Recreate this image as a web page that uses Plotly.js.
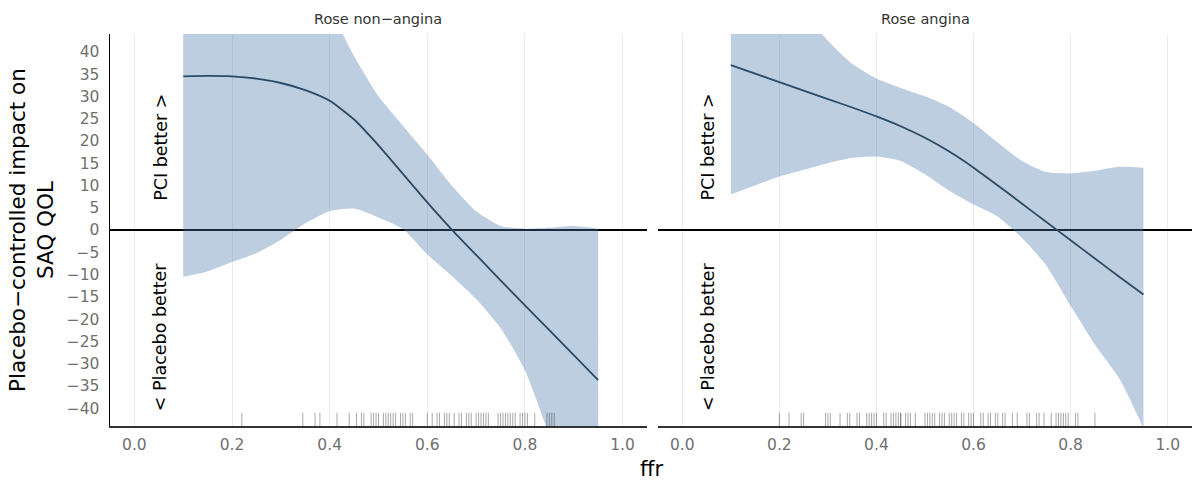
<!DOCTYPE html>
<html>
<head>
<meta charset="utf-8">
<script src="https://cdn.plot.ly/plotly-3.0.1.min.js"></script>
<style>
  html, body { margin: 0; padding: 0; background: #ffffff; }
  #chart { width: 1192px; height: 484px; }
</style>
</head>
<body>
<div id="chart"></div>
<script>
// ---------------- data ----------------
var panelNames = ["Rose non\u2212angina", "Rose angina"];

var ffrGrid = [0.10, 0.15, 0.20, 0.25, 0.30, 0.35, 0.40, 0.45, 0.50,
               0.55, 0.60, 0.65, 0.70, 0.75, 0.80, 0.85, 0.90, 0.95];

// Rose non-angina panel
var nonAnginaMean  = [34.5, 34.6, 34.5, 34.0, 33.0, 31.4, 29.0, 24.8, 19.0,
                      12.6, 6.2, 0.1, -5.6, -11.3, -16.9, -22.5, -28.1, -33.7];
var nonAnginaLower = [-10.5, -9.3, -7.2, -5.2, -2.2, 1.5, 4.2, 4.8, 2.8,
                      0.2, -5.5, -10.3, -15.5, -22.0, -31.5, -46.0, -60.0, -75.0];
var nonAnginaUpper = [58.0, 57.0, 56.0, 55.0, 54.0, 52.0, 49.0, 39.0, 30.0,
                      23.4, 16.9, 10.0, 4.2, 0.9, 0.3, 0.5, 0.9, 0.3];

// Rose angina panel
var anginaMean  = [37.0, 35.1, 33.2, 31.3, 29.4, 27.5, 25.5, 23.3, 20.7,
                   17.6, 14.0, 10.0, 5.9, 1.8, -2.3, -6.4, -10.5, -14.5];
var anginaLower = [8.0, 10.0, 12.0, 13.5, 15.0, 16.2, 16.5, 15.5, 12.5,
                   8.8, 5.7, 3.0, -1.8, -8.0, -17.0, -25.7, -33.3, -44.5];
var anginaUpper = [54.0, 53.0, 51.5, 48.5, 42.5, 37.3, 34.0, 31.9, 30.0,
                   27.6, 24.0, 19.6, 15.5, 13.0, 12.7, 13.3, 14.2, 14.0];

// observed ffr values (rug marks)
var rugNonAngina = [0.22, 0.345, 0.37, 0.38, 0.415, 0.44, 0.455, 0.465, 0.47, 0.485,
                    0.49, 0.495, 0.50, 0.51, 0.515, 0.52, 0.525, 0.53, 0.535, 0.545,
                    0.55, 0.555, 0.565, 0.57, 0.60, 0.61, 0.62, 0.625, 0.635, 0.64,
                    0.645, 0.655, 0.665, 0.67, 0.68, 0.685, 0.69, 0.70, 0.705, 0.71,
                    0.715, 0.72, 0.725, 0.745, 0.75, 0.755, 0.76, 0.765, 0.77, 0.775,
                    0.78, 0.79, 0.795, 0.80, 0.805, 0.82, 0.845, 0.85, 0.855, 0.86];
var rugAngina = [0.20, 0.22, 0.245, 0.25, 0.295, 0.30, 0.305, 0.325, 0.34, 0.345,
                 0.36, 0.365, 0.38, 0.385, 0.39, 0.395, 0.40, 0.415, 0.42, 0.43,
                 0.435, 0.44, 0.445, 0.45, 0.45, 0.46, 0.465, 0.47, 0.48, 0.50,
                 0.505, 0.51, 0.515, 0.52, 0.53, 0.535, 0.54, 0.55, 0.555, 0.56,
                 0.565, 0.575, 0.58, 0.59, 0.595, 0.60, 0.615, 0.62, 0.63, 0.635,
                 0.645, 0.65, 0.66, 0.665, 0.68, 0.69, 0.71, 0.715, 0.73, 0.735,
                 0.745, 0.76, 0.77, 0.775, 0.78, 0.785, 0.79, 0.795, 0.81, 0.815, 0.85];

var xTickVals = [0.0, 0.2, 0.4, 0.6, 0.8, 1.0];
var yTickVals = [-40, -35, -30, -25, -20, -15, -10, -5, 0, 5, 10, 15, 20, 25, 30, 35, 40];

// ---------------- styling ----------------
var FONT = "DejaVu Sans, Liberation Sans, Arial, sans-serif";
var fillCol = "rgba(70,120,170,0.36)";
var lineCol = "#2b4a68";
var rugCol = "rgba(0,0,0,0.34)";
var yRange = [-44, 44];
var rugLenPx = 11;
var plotHpx = 392;
var rugY = yRange[0] + (rugLenPx / 2) * (yRange[1] - yRange[0]) / plotHpx;
var SMOOTH = 0.6;

function panelTraces(xa, ya, lower, upper, mean, rug) {
  return [
    { type: "scatter", mode: "lines", x: ffrGrid, y: lower, xaxis: xa, yaxis: ya,
      line: { width: 0, shape: "spline", smoothing: SMOOTH }, hoverinfo: "skip", showlegend: false },
    { type: "scatter", mode: "lines", x: ffrGrid, y: upper, xaxis: xa, yaxis: ya,
      fill: "tonexty", fillcolor: fillCol,
      line: { width: 0, shape: "spline", smoothing: SMOOTH }, hoverinfo: "skip", showlegend: false },
    { type: "scatter", mode: "lines", x: ffrGrid, y: mean, xaxis: xa, yaxis: ya,
      line: { width: 1.8, color: lineCol, shape: "spline", smoothing: SMOOTH },
      hoverinfo: "skip", showlegend: false },
    { type: "scatter", mode: "markers", x: rug, y: rug.map(function () { return rugY; }),
      xaxis: xa, yaxis: ya,
      marker: { symbol: "line-ns-open", size: rugLenPx, color: rugCol,
                line: { width: 1, color: rugCol } },
      hoverinfo: "skip", showlegend: false }
  ];
}

var data = []
  .concat(panelTraces("x", "y", nonAnginaLower, nonAnginaUpper, nonAnginaMean, rugNonAngina))
  .concat(panelTraces("x2", "y2", anginaLower, anginaUpper, anginaMean, rugAngina));

var W = 1192, H = 484;
var leftDom = [110 / W, 647 / W];
var rightDom = [658 / W, 1];

function xAxis(dom, anchor) {
  return {
    domain: dom, anchor: anchor, range: [-0.05, 1.05],
    tickvals: xTickVals, tickformat: ".1f",
    ticks: "", ticklabelstandoff: 4,
    tickfont: { family: FONT, size: 15.5, color: "#6f6f6f" },
    showgrid: true, gridcolor: "#ececec", gridwidth: 1,
    zeroline: false,
    showline: true, linecolor: "#333333", linewidth: 1.5,
    fixedrange: true
  };
}
function yAxis(anchor, showLabels, showLine) {
  return {
    domain: [0, 1], anchor: anchor, range: yRange,
    tickvals: yTickVals, ticks: "", ticklabelstandoff: 6,
    showticklabels: showLabels,
    tickfont: { family: FONT, size: 15.5, color: "#6f6f6f" },
    showgrid: false,
    zeroline: true, zerolinecolor: "#000000", zerolinewidth: 1.6,
    showline: showLine, linecolor: "#000000", linewidth: 1.5,
    layer: "above traces",
    fixedrange: true
  };
}

var annots = [
  { text: panelNames[0], xref: "paper", yref: "paper",
    x: (leftDom[0] + leftDom[1]) / 2, y: 1 + 15 / plotHpx, xanchor: "center", yanchor: "middle",
    showarrow: false, font: { family: FONT, size: 14.5, color: "#333333" } },
  { text: panelNames[1], xref: "paper", yref: "paper",
    x: (rightDom[0] + rightDom[1]) / 2, y: 1 + 15 / plotHpx, xanchor: "center", yanchor: "middle",
    showarrow: false, font: { family: FONT, size: 14.5, color: "#333333" } },
  { text: "Placebo\u2212controlled impact on<br>SAQ QOL", xref: "paper", yref: "paper",
    x: 31 / W, y: 0.5, xanchor: "center", yanchor: "middle", textangle: -90,
    showarrow: false, font: { family: FONT, size: 21.5, color: "#000000" } },
  { text: "ffr", xref: "paper", yref: "paper",
    x: 651 / W, y: -43 / plotHpx, xanchor: "center", yanchor: "middle",
    showarrow: false, font: { family: FONT, size: 21, color: "#000000" } }
];
[["x", "y"], ["x2", "y2"]].forEach(function (ax) {
  annots.push({ text: "PCI better >", xref: ax[0], yref: ax[1], x: 0.053, y: 18.5,
    xanchor: "center", yanchor: "middle", textangle: -90, showarrow: false,
    font: { family: FONT, size: 17.5, color: "#000000" } });
  annots.push({ text: "< Placebo better", xref: ax[0], yref: ax[1], x: 0.053, y: -24,
    xanchor: "center", yanchor: "middle", textangle: -90, showarrow: false,
    font: { family: FONT, size: 17.5, color: "#000000" } });
});

var layout = {
  width: W, height: H,
  margin: { l: 0, r: 0, t: 34, b: 58, pad: 0 },
  paper_bgcolor: "#ffffff", plot_bgcolor: "#ffffff",
  showlegend: false, hovermode: false,
  xaxis: xAxis(leftDom, "y"),
  xaxis2: xAxis(rightDom, "y2"),
  yaxis: yAxis("x", true, true),
  yaxis2: yAxis("x2", false, false),
  annotations: annots,
  font: { family: FONT }
};

Plotly.newPlot("chart", data, layout, { staticPlot: true, displayModeBar: false });
</script>
</body>
</html>
